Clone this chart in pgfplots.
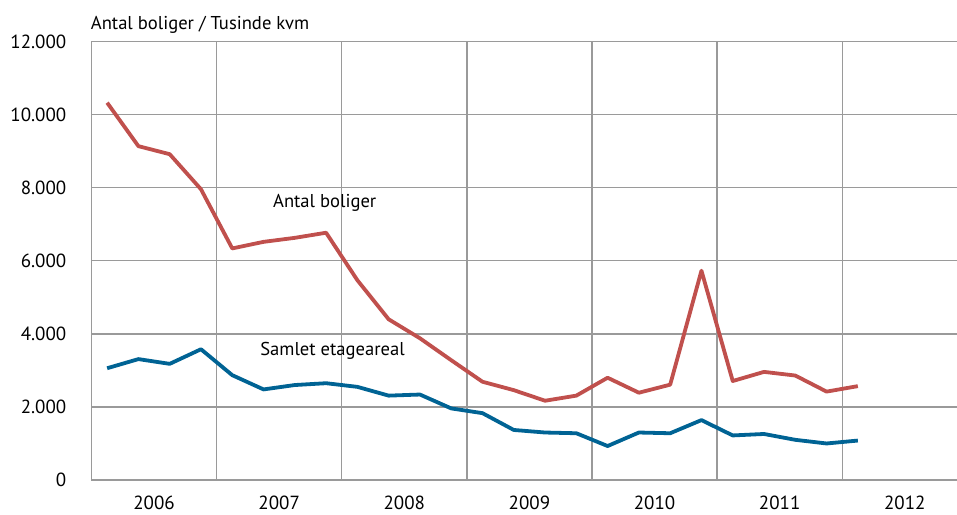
\documentclass[border=0pt]{standalone}
\usepackage{pgfplots}
\pgfplotsset{compat=1.18}
\usepackage{fontspec}
\setmainfont{PT Sans}
\definecolor{redl}{HTML}{C0504D}
\definecolor{bluel}{HTML}{006394}
\definecolor{gridc}{HTML}{9A9A9A}
\pgfplotstableread{
x boliger areal
0.5 10330 3060
1.5 9140 3310
2.5 8920 3180
3.5 7960 3580
4.5 6340 2870
5.5 6520 2480
6.5 6630 2600
7.5 6770 2650
8.5 5470 2550
9.5 4400 2310
10.5 3880 2340
11.5 3280 1960
12.5 2690 1830
13.5 2460 1370
14.5 2170 1300
15.5 2310 1280
16.5 2800 930
17.5 2390 1300
18.5 2610 1280
19.5 5730 1640
20.5 2710 1220
21.5 2960 1260
22.5 2860 1100
23.5 2420 1000
24.5 2570 1080
}\data
\begin{document}
\begin{tikzpicture}
\begin{axis}[
  scale only axis, width=865.5pt, height=438.3pt,
  xmin=0, xmax=27.67, ymin=0, ymax=12000,
  axis x line*=bottom, axis y line*=left,
  axis line style={gridc, line width=1.3pt},
  xtick={2,6,...,26}, xticklabels={2006,2007,2008,2009,2010,2011,2012},
  minor xtick={4,8,...,24}, xminorgrids=true, xmajorgrids=false,
  ytick={0,2000,...,12000}, yticklabels={0,2.000,4.000,6.000,8.000,10.000,12.000},
  scaled y ticks=false,
  ymajorgrids=true,
  grid style={gridc, line width=1.3pt},
  minor grid style={gridc, line width=1.3pt},
  major tick length=0pt, minor tick length=0pt,
  tick style={draw=none},
  ticklabel style={font=\fontsize{19}{20}\selectfont, inner sep=0pt},
  yticklabel style={anchor=east},
  xticklabel style={anchor=north},
  yticklabel shift=25pt,
  xticklabel shift=15.5pt,
  clip=false,
]
\coordinate (O) at (rel axis cs:0,0);
\addplot[redl, line width=3.8pt, line join=round] table[x=x, y=boliger] {\data};
\addplot[bluel, line width=3.8pt, line join=round] table[x=x, y=areal] {\data};
\node[anchor=base west, inner sep=0pt, font=\fontsize{18.6}{20}\selectfont] at (axis cs:5.8,7450) {Antal boliger};
\node[anchor=base west, inner sep=0pt, font=\fontsize{18.6}{20}\selectfont] at (axis cs:5.39,3420) {Samlet etageareal};
\node[anchor=base west, inner sep=0pt, font=\fontsize{18.6}{20}\selectfont] at ([yshift=11.7pt,xshift=-0.8pt]rel axis cs:0,1) {Antal boliger / Tusinde kvm};
\end{axis}
\pgfresetboundingbox
\path[use as bounding box] ([shift={(-91.5pt,-34pt)}]O) rectangle ([shift={(865.5pt,480pt)}]O);
\end{tikzpicture}
\end{document}
